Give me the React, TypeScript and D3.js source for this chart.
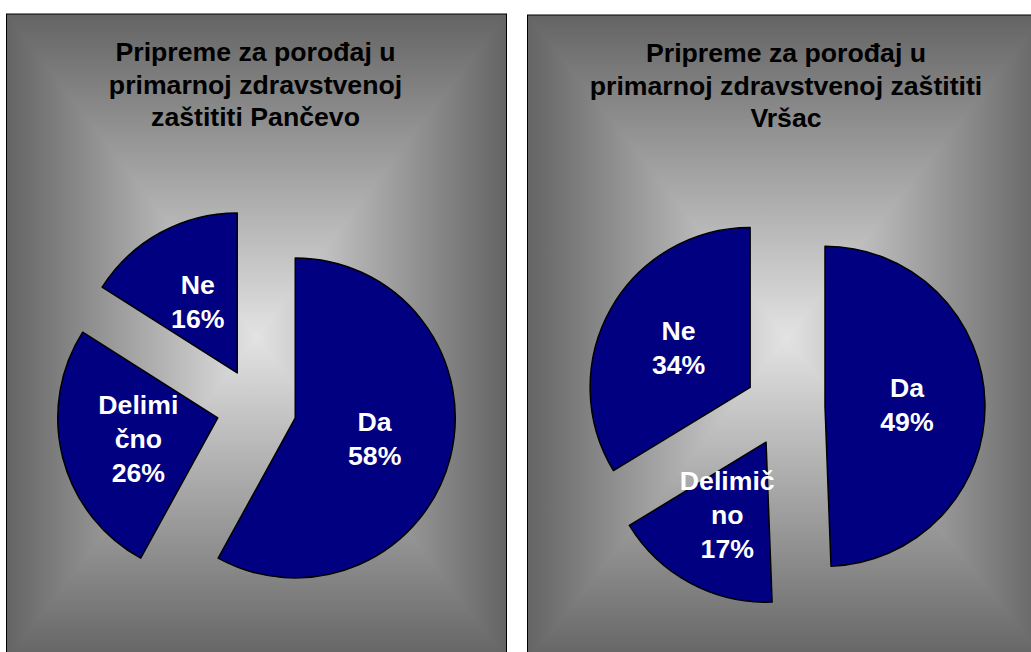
import React from 'react';
import * as d3 from 'd3';

// ---- data ----
const categories = ['Da', 'Delimično', 'Ne'];
const pancevoValues = [58, 26, 16];
const vrsacValues = [49.4, 16.9, 33.7];
const pancevoTitle = ['Pripreme za porođaj u', 'primarnoj zdravstvenoj', 'zaštititi Pančevo'];
const vrsacTitle = ['Pripreme za porođaj u', 'primarnoj zdravstvenoj zaštititi', 'Vršac'];
const pancevoLabelLines = [['Da'], ['Delimi', 'čno'], ['Ne']];
const vrsacLabelLines = [['Da'], ['Delimič', 'no'], ['Ne']];

const FONT = '"Liberation Sans", Arial, Helvetica, sans-serif';
const FS = 26.67;
const CAP = 19;

type PanelProps = {
  id: string;
  x: number; y: number; w: number; h: number;
  gcx: number; gcy: number;
  titleX: number;
  title: string[];
  cx: number; cy: number;
  values: number[];
  labelLines: string[][];
};

function Panel(p: PanelProps) {
  const edge = '#646464';
  const center = '#e3e3e3';
  const x0 = p.x, y0 = p.y, x1 = p.x + p.w, y1 = p.y + p.h;
  const R = 160;
  const explode = 40;
  const pie = d3.pie<number>().sort(null).value((d) => d);
  const arcs = pie(p.values);
  const arc = d3.arc<d3.PieArcDatum<number>>().innerRadius(0).outerRadius(R);
  const labelArc = d3.arc<d3.PieArcDatum<number>>().innerRadius(82).outerRadius(82);
  const total = d3.sum(p.values);
  const ls = 34;
  const tri = [
    { k: 'top', pts: `${x0},${y0} ${x1},${y0} ${p.gcx},${p.gcy}`, g: [p.gcx, y0, p.gcx, p.gcy] },
    { k: 'bot', pts: `${x0},${y1} ${x1},${y1} ${p.gcx},${p.gcy}`, g: [p.gcx, y1, p.gcx, p.gcy] },
    { k: 'lft', pts: `${x0},${y0} ${x0},${y1} ${p.gcx},${p.gcy}`, g: [x0, p.gcy, p.gcx, p.gcy] },
    { k: 'rgt', pts: `${x1},${y0} ${x1},${y1} ${p.gcx},${p.gcy}`, g: [x1, p.gcy, p.gcx, p.gcy] },
  ];
  return (
    <g>
      <defs>
        {tri.map((t) => (
          <linearGradient key={t.k} id={`${p.id}-${t.k}`} gradientUnits="userSpaceOnUse"
            x1={t.g[0]} y1={t.g[1]} x2={t.g[2]} y2={t.g[3]}>
            <stop offset="0" stopColor={edge} />
            <stop offset="1" stopColor={center} />
          </linearGradient>
        ))}
      </defs>
      <rect x={x0} y={y0} width={p.w} height={p.h} fill="#999" />
      {tri.map((t) => (
        <polygon key={t.k} points={t.pts} fill={`url(#${p.id}-${t.k})`} shapeRendering="crispEdges" />
      ))}
      <rect x={x0} y={y0} width={p.w} height={p.h} fill="none" stroke="#000" strokeWidth={1} />
      <text fontFamily={FONT} fontWeight="bold" fontSize={FS} fill="#000" textAnchor="middle">
        {p.title.map((t, i) => (
          <tspan key={i} x={p.titleX} y={p.y + 47 + i * 32.5}>{t}</tspan>
        ))}
      </text>
      {arcs.map((a, i) => {
        const mid = (a.startAngle + a.endAngle) / 2;
        const dx = explode * Math.sin(mid);
        const dy = -explode * Math.cos(mid);
        const [lx, ly] = labelArc.centroid(a);
        const lines = [...p.labelLines[i], `${Math.round((a.value / total) * 100)}%`];
        const first = ly - ((lines.length - 1) * ls) / 2 + CAP / 2;
        return (
          <g key={categories[i]} transform={`translate(${p.cx + dx},${p.cy + dy})`}>
            <path d={arc(a) || ''} fill="#000080" stroke="#000" strokeWidth={1.5} strokeLinejoin="round" />
            <text fontFamily={FONT} fontWeight="bold" fontSize={FS} fill="#fff" textAnchor="middle">
              {lines.map((l, j) => (
                <tspan key={j} x={lx} y={first + j * ls}>{l}</tspan>
              ))}
            </text>
          </g>
        );
      })}
    </g>
  );
}

export default function App() {
  return (
    <svg width={1031} height={652} style={{ position: 'absolute', left: 0, top: 0, display: 'block', background: '#fff' }}>
      <Panel id="pa" x={6.5} y={14} w={500} h={646} gcx={256.5} gcy={337}
        titleX={255.5} title={pancevoTitle} cx={256.5} cy={408}
        values={pancevoValues} labelLines={pancevoLabelLines} />
      <Panel id="vr" x={527.5} y={15} w={518} h={646} gcx={786.5} gcy={338}
        titleX={786} title={vrsacTitle} cx={785} cy={407}
        values={vrsacValues} labelLines={vrsacLabelLines} />
    </svg>
  );
}
